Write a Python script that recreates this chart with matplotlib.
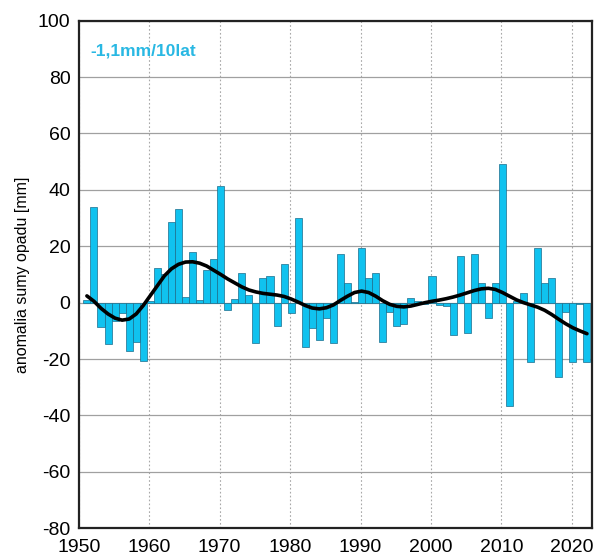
import numpy as np
import matplotlib
matplotlib.use("Agg")
import matplotlib.pyplot as plt

plt.rcParams['font.family'] = ['Liberation Sans', 'DejaVu Sans']
plt.rcParams['axes.unicode_minus'] = False

# ---------------------------------------------------------
# DANE
# ---------------------------------------------------------
lata = list(range(1951, 2023))

anomalia = [
    0.8, 33.8, -8.8, -14.7, -6.5, -3.5, -17.2, -13.8, -20.6, 0.5,     # 1951-1960
    12.2, 10.2, 28.6, 33.3, 1.9, 18.0, 0.9, 11.7, 15.6, 41.4,        # 1961-1970
    -2.6, 1.4, 10.4, 2.7, -14.4, 8.6, 9.3, -8.3, 13.7, -3.8,         # 1971-1980
    30.0, -15.6, -9.1, -13.3, -5.6, -14.2, 17.3, 7.1, 0.4, 19.3,     # 1981-1990
    8.6, 10.4, -14.0, -3.2, -8.2, -7.7, 1.8, 0.6, -0.6, 9.6,         # 1991-2000
    -0.8, -1.2, -11.6, 16.7, -10.7, 17.4, 7.1, -5.4, 6.9, 49.0,      # 2001-2010
    -36.7, 0.5, 3.3, -20.9, 19.4, 7.1, 8.9, -26.5, -3.2, -20.9,      # 2011-2020
    -0.5, -20.9,                                                     # 2021-2022
]

wygladzone = [
    2.4, 0.5, -2.0, -4.0, -5.5, -6.2, -5.8, -4.0, -1.0, 2.5,
    6.0, 9.5, 12.0, 13.6, 14.4, 14.5, 14.0, 13.0, 11.5, 10.0,
    8.4, 7.0, 5.6, 4.5, 3.8, 3.3, 3.0, 2.7, 2.2, 1.3,
    0.2, -1.0, -1.9, -2.2, -1.8, -0.8, 0.8, 2.3, 3.6, 4.1,
    3.6, 2.3, 0.7, -0.6, -1.3, -1.5, -1.2, -0.6, 0.0, 0.5,
    0.9, 1.4, 2.0, 2.7, 3.5, 4.3, 4.9, 5.1, 4.7, 3.6,
    2.3, 1.0, 0.0, -0.8, -1.6, -2.7, -4.2, -5.9, -7.5, -8.9,
    -10.0, -11.0,
]

trend_tekst = "-1,1mm/10lat"

x_ticks = [1950, 1960, 1970, 1980, 1990, 2000, 2010, 2020]
y_ticks = [-80, -60, -40, -20, 0, 20, 40, 60, 80, 100]

# ---------------------------------------------------------
# WYKRES
# ---------------------------------------------------------
fig = plt.figure(figsize=(5.97, 5.59), dpi=100)
ax = fig.add_axes([0.132, 0.055, 0.860, 0.908])

pozycje = np.array(lata) + 0.15

ax.bar(pozycje, anomalia, width=1.0, color="#10C2EF",
       edgecolor="#1a6d8c", linewidth=0.5, zorder=3)

ax.plot(pozycje, wygladzone, color="black", linewidth=2.6, zorder=4,
        solid_capstyle="round")

ax.set_xlim(1950, 2022.9)
ax.set_ylim(-80, 100)
ax.set_xticks(x_ticks)
ax.set_yticks(y_ticks)

ax.yaxis.grid(True, color="#a0a0a0", linewidth=0.9, linestyle="-", zorder=0)
ax.xaxis.grid(True, color="#a8a8a8", linewidth=0.8, linestyle=(0, (1.5, 2)), zorder=0)
ax.set_axisbelow(True)

ax.tick_params(axis="y", length=0, labelsize=14, pad=6)
ax.tick_params(axis="x", length=0, labelsize=14, pad=8)

for sp in ax.spines.values():
    sp.set_linewidth(1.6)
    sp.set_color("#222222")

ax.set_ylabel("anomalia sumy opadu [mm]", fontsize=11.5, labelpad=6)

ax.text(0.022, 0.94, trend_tekst, transform=ax.transAxes,
        color="#29B8E3", fontsize=12.5, fontweight="bold",
        ha="left", va="center")

plt.savefig("out.png", dpi=100)
